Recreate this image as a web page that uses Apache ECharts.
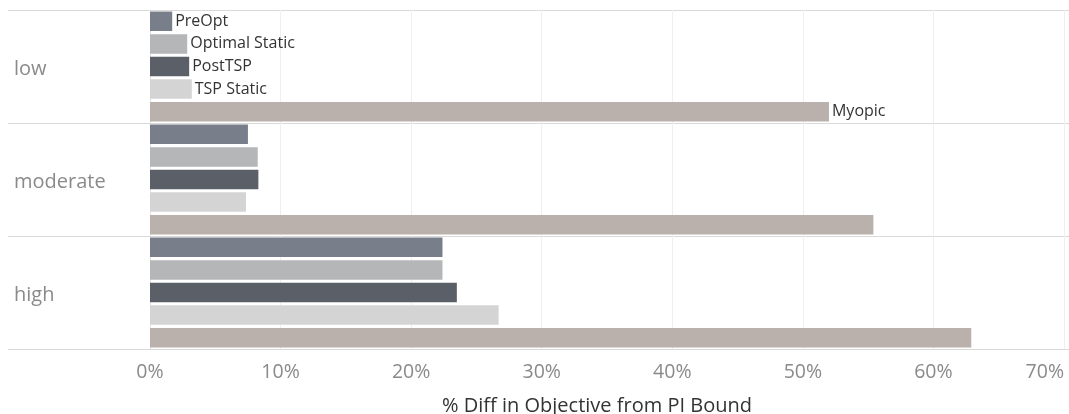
<!DOCTYPE html>
<html>
<head>
<meta charset="utf-8">
<script src="https://cdn.jsdelivr.net/npm/echarts@6/dist/echarts.min.js"></script>
<style>
html,body{margin:0;padding:0;background:#fff;}
#c{width:1069px;height:414px;}
</style>
</head>
<body>
<div id="c"></div>
<script>
var categories = ['low', 'moderate', 'high'];
var seriesNames = ['PreOpt', 'Optimal Static', 'PostTSP', 'TSP Static', 'Myopic'];
var preOpt = [1.7, 7.5, 22.4];
var optimalStatic = [2.85, 8.25, 22.4];
var postTSP = [3.0, 8.3, 23.5];
var tspStatic = [3.2, 7.35, 26.7];
var myopic = [52.0, 55.4, 62.9];
var xTicks = [0, 10, 20, 30, 40, 50, 60, 70];

var colors = ['#787f8b', '#b4b6b7', '#5b5f68', '#d4d4d4', '#bab0ac'];
var values = [preOpt, optimalStatic, postTSP, tspStatic, myopic];
var FONT = "'Open Sans', sans-serif";

var chart = echarts.init(document.getElementById('c'), null, {renderer: 'canvas'});

var series = values.map(function (vals, si) {
  return {
    name: seriesNames[si],
    type: 'bar',
    xAxisIndex: 1,
    yAxisIndex: 1,
    barGap: '16%',
    barCategoryGap: '2.7%',
    itemStyle: {color: colors[si]},
    data: vals.map(function (v, ci) {
      var item = {value: v};
      if (ci === 0) {
        item.label = {
          show: true,
          position: 'right',
          distance: 3,
          formatter: seriesNames[si],
          color: '#333',
          fontSize: 16,
          fontFamily: FONT
        };
      }
      return item;
    })
  };
});

chart.setOption({
  animation: false,
  grid: [
    {left: 8, right: 0, top: 10, height: 339, containLabel: false, outerBoundsMode: 'none'},
    {left: 150, right: 5, top: 10, height: 339, containLabel: false, outerBoundsMode: 'none'}
  ],
  xAxis: [
    {gridIndex: 0, type: 'value', min: 0, max: 70, show: false},
    {
      gridIndex: 1, type: 'value', min: xTicks[0], max: xTicks[xTicks.length - 1], interval: 10,
      axisLine: {show: false}, axisTick: {show: false},
      splitLine: {show: true, lineStyle: {color: '#efefef', width: 1}},
      axisLabel: {
        formatter: '{value}%', color: '#8a8a8a', fontSize: 19.5, fontFamily: FONT,
        margin: 13, alignMaxLabel: 'right'
      },
      name: '% Diff in Objective from PI Bound',
      nameLocation: 'middle',
      nameGap: 47,
      nameTextStyle: {color: '#333', fontSize: 20, fontFamily: FONT, padding: [0, 20, 0, 0]}
    }
  ],
  yAxis: [
    {
      gridIndex: 0, type: 'category', data: categories, inverse: true,
      axisLine: {show: false}, axisTick: {show: false}, axisLabel: {show: false},
      splitLine: {show: true, lineStyle: {color: '#d9d9d9', width: 1}}
    },
    {
      gridIndex: 1, type: 'category', data: categories, inverse: true,
      offset: 20,
      axisLine: {show: true, lineStyle: {color: '#e3e3e3', width: 1}},
      axisTick: {show: false},
      splitLine: {show: false},
      axisLabel: {align: 'left', verticalAlign: 'top', lineHeight: 6, margin: 116, color: '#8a8a8a', fontSize: 20, fontFamily: FONT}
    }
  ],
  series: series
});
</script>
</body>
</html>
